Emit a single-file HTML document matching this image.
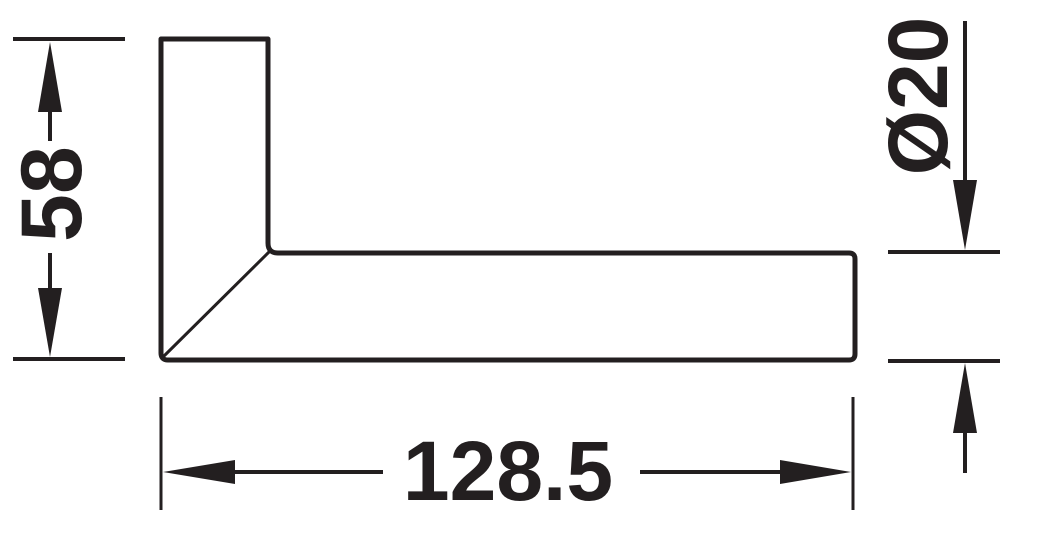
<!DOCTYPE html>
<html><head><meta charset="utf-8"><style>
html,body{margin:0;padding:0;background:#fff;width:1042px;height:552px;overflow:hidden}
svg{display:block}
text{font-family:"Liberation Sans",Arial,sans-serif;font-weight:bold;fill:#231f20}
</style></head><body>
<svg width="1042" height="552" viewBox="0 0 1042 552">
<g stroke="#231f20" fill="none">
  <path stroke-width="5" stroke-linejoin="round"
    d="M161,39 L268,39 L268,243 Q268,253 278,253 L849,253 Q855,253 855,259 L855,354 Q855,360 849,360 L168,360 Q161,360 161,353 Z"/>
  <line x1="163" y1="357" x2="269" y2="252" stroke-width="3"/>
  <!-- 58 dimension -->
  <line x1="13" y1="39" x2="125" y2="39" stroke-width="4"/>
  <line x1="13" y1="359" x2="125" y2="359" stroke-width="4"/>
  <line x1="50" y1="100" x2="50" y2="141" stroke-width="4"/>
  <line x1="50" y1="253" x2="50" y2="300" stroke-width="4"/>
  <!-- width dimension -->
  <line x1="161" y1="397" x2="161" y2="510" stroke-width="3"/>
  <line x1="853" y1="397" x2="853" y2="510" stroke-width="3"/>
  <line x1="220" y1="472" x2="383" y2="472" stroke-width="4"/>
  <line x1="640" y1="472" x2="795" y2="472" stroke-width="4"/>
  <!-- diameter dimension -->
  <line x1="888" y1="252" x2="1000" y2="252" stroke-width="4"/>
  <line x1="888" y1="361" x2="1000" y2="361" stroke-width="4"/>
  <line x1="965" y1="21" x2="965" y2="190" stroke-width="4"/>
  <line x1="965" y1="420" x2="965" y2="473" stroke-width="4"/>
</g>
<g fill="#231f20">
  <polygon points="50,42 38,112 62,112"/>
  <polygon points="50,357 38,288 62,288"/>
  <polygon points="163,472 235,460 235,484"/>
  <polygon points="851,472 780,460 780,484"/>
  <polygon points="965,250 953,180 977,180"/>
  <polygon points="965,363 953,433 977,433"/>
</g>
<text font-size="86" text-anchor="middle" transform="translate(81,194) rotate(-90)">58</text>
<text font-size="84" text-anchor="middle" x="508" y="500">128.5</text>
<text font-size="84" text-anchor="middle" transform="translate(947,96) rotate(-90)">Ø20</text>
</svg>
</body></html>
